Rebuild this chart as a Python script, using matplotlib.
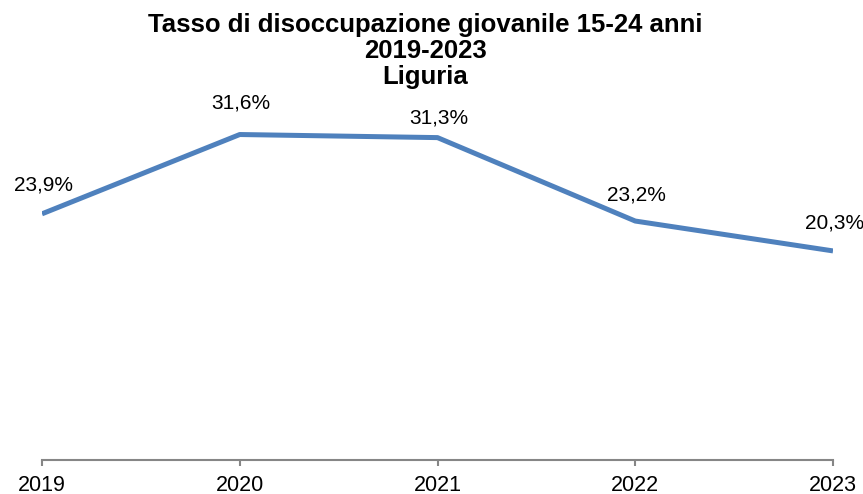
import matplotlib.pyplot as plt

years = ['2019', '2020', '2021', '2022', '2023']
tasso = [23.9, 31.6, 31.3, 23.2, 20.3]
etichette = ['23,9%', '31,6%', '31,3%', '23,2%', '20,3%']

plt.rcParams['font.family'] = ['Liberation Sans', 'DejaVu Sans']

fig = plt.figure(figsize=(8.63, 4.94), dpi=100)
ax = fig.add_axes([42 / 863, 34 / 494, 791 / 863, 360.5 / 494])

x = range(len(years))
ax.plot(x, tasso, color='#4F81BD', linewidth=3.6, solid_capstyle='butt')

# spostamento verticale delle etichette (pixel)
offs = [29, 32, 20, 26, 28]
for i, (v, lab) in enumerate(zip(tasso, etichette)):
    ax.annotate(lab, (i, v), xytext=(1, offs[i] * 0.72), textcoords='offset points',
                ha='center', va='center', fontsize=15)

ax.set_xlim(0, len(years) - 1)
ax.set_ylim(0, 35)
ax.set_xticks(list(x))
ax.set_xticklabels(years, fontsize=15.5)
ax.set_yticks([])
for s in ['top', 'right', 'left']:
    ax.spines[s].set_visible(False)
ax.spines['bottom'].set_color('#868686')
ax.spines['bottom'].set_linewidth(1.5)
ax.tick_params(axis='x', colors='#868686', length=4.5, width=1.5, pad=6, labelcolor='black')

fig.text(425 / 863, 1 - 51 / 494, 'Tasso di disoccupazione giovanile 15-24 anni\n2019-2023\nLiguria',
         ha='center', va='center', fontsize=18.5, fontweight='bold', linespacing=1.12)

fig.savefig('out.png', dpi=100)
